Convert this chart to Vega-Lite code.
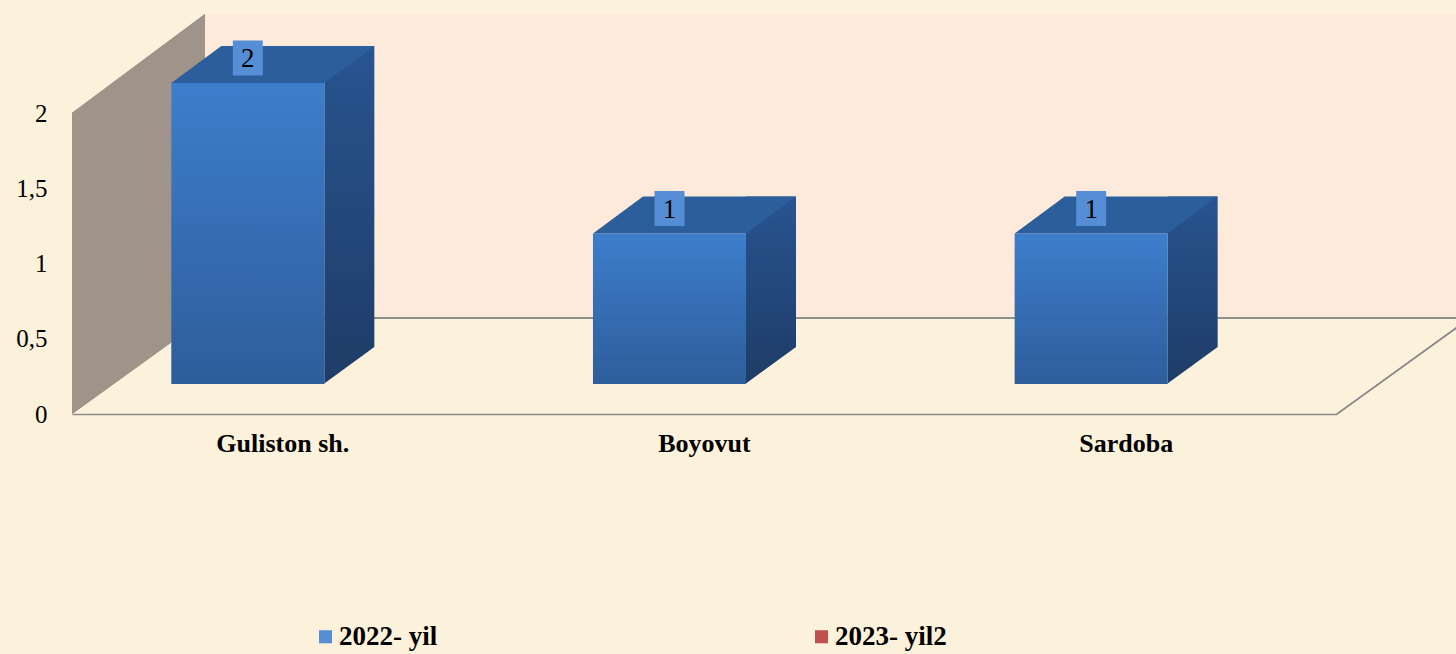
{
  "$schema": "https://vega.github.io/schema/vega-lite/v6.json",
  "autosize": "none",
  "width": 1265,
  "height": 301,
  "padding": {"left": 72, "top": 113, "right": 119, "bottom": 240},
  "background": "#FCF1DA",
  "config": {
    "view": {"stroke": null},
    "axis": {"labelFont": "Liberation Serif", "labelColor": "#000000", "grid": false, "ticks": false, "title": null},
    "legend": {"labelFont": "Liberation Serif"}
  },
  "data": {
    "values": [
      {"district": "Guliston sh.", "value": 2, "series": "2022- yil"},
      {"district": "Boyovut", "value": 1, "series": "2022- yil"},
      {"district": "Sardoba", "value": 1, "series": "2022- yil"}
    ]
  },
  "layer": [
    {
      "mark": {"type": "point", "filled": true, "opacity": 1, "strokeWidth": 0, "color": "#A0948A", "size": 250000, "shape": "M-0.266,-0.602L0.266,-0.998L0.266,0.218L-0.266,0.602Z", "xOffset": 66.5},
      "encoding": {
        "x": {"value": 0},
        "y": {"datum": 1, "type": "quantitative", "scale": {"domain": [0, 2], "nice": false},
          "axis": {"values": [0, 0.5, 1, 1.5, 2], "format": "~g", "labelExpr": "replace(datum.label, '.', ',')", "labelFontSize": 25, "labelPadding": 25, "domain": false, "title": null}}
      }
    },
    {
      "mark": {"type": "rect", "color": "#FDEADB", "xOffset": 133, "x2Offset": 133, "yOffset": -96, "y2Offset": -99},
      "encoding": {
        "x": {"value": 0},
        "x2": {"value": "width"},
        "y": {"datum": 0, "type": "quantitative"},
        "y2": {"datum": 2}
      }
    },
    {
      "mark": {"type": "rule", "color": "#8C8C8C", "strokeWidth": 1.5, "xOffset": 133, "x2Offset": 133, "yOffset": -96},
      "encoding": {
        "x": {"value": 0},
        "x2": {"value": "width"},
        "y": {"datum": 0, "type": "quantitative"}
      }
    },
    {
      "mark": {"type": "rule", "color": "#8C8C8C", "strokeWidth": 1.5, "x2Offset": 133, "y2Offset": -96},
      "encoding": {
        "x": {"value": "width"},
        "x2": {"value": "width"},
        "y": {"datum": 0, "type": "quantitative"},
        "y2": {"datum": 0}
      }
    },
    {
      "mark": {"type": "bar", "width": 50, "xOffset": 66.5, "yOffset": -67, "y2Offset": -30,
        "color": {"gradient": "linear", "x1": 0, "y1": 0, "x2": 0, "y2": 1, "stops": [{"offset": 0, "color": "#285490"}, {"offset": 1, "color": "#1E3C66"}]}},
      "encoding": {
        "x": {"field": "district", "type": "nominal", "sort": null, "scale": {"paddingInner": 0.637, "paddingOuter": 0.3185},
          "axis": {"labelFontSize": 26, "labelFontWeight": "bold", "labelPadding": 16, "domain": true, "domainColor": "#8C8C8C", "domainWidth": 1.5, "labelAngle": 0, "title": null}},
        "y": {"field": "value", "type": "quantitative"},
        "y2": {"datum": 0}
      }
    },
    {
      "mark": {"type": "point", "filled": true, "opacity": 1, "strokeWidth": 0, "color": "#FCF1DA", "size": 90000, "shape": "M0.505,0L0.8433,-0.2467L0.86,-0.2467L0.86,0.01L0.505,0.01Z", "xOffset": -35, "yOffset": -30},
      "encoding": {
        "x": {"field": "district", "type": "nominal", "sort": null},
        "y": {"datum": 0, "type": "quantitative"}
      }
    },
    {
      "mark": {"type": "bar", "xOffset": -35, "yOffset": -30, "y2Offset": -30,
        "color": {"gradient": "linear", "x1": 0, "y1": 0, "x2": 0, "y2": 1, "stops": [{"offset": 0, "color": "#3D7ECC"}, {"offset": 1, "color": "#2E5D9B"}]}},
      "encoding": {
        "x": {"field": "district", "type": "nominal", "sort": null},
        "y": {"field": "value", "type": "quantitative"},
        "y2": {"datum": 0}
      }
    },
    {
      "mark": {"type": "point", "filled": true, "opacity": 1, "strokeWidth": 0, "color": "#2C5E9C", "size": 90000, "shape": "M-0.51,0L0.51,0L0.8433,-0.2467L-0.1767,-0.2467Z", "xOffset": -35, "yOffset": -30},
      "encoding": {
        "x": {"field": "district", "type": "nominal", "sort": null},
        "y": {"field": "value", "type": "quantitative"}
      }
    },
    {
      "mark": {"type": "point", "filled": true, "opacity": 1, "strokeWidth": 0, "size": 1225, "shape": "M-0.857,-1L0.857,-1L0.857,1L-0.857,1Z", "xOffset": -35, "yOffset": -55},
      "encoding": {
        "x": {"field": "district", "type": "nominal", "sort": null},
        "y": {"field": "value", "type": "quantitative"},
        "color": {"field": "series", "type": "nominal",
          "scale": {"domain": ["2022- yil", "2023- yil2"], "range": ["#558ED5", "#C0504D"]},
          "legend": {"orient": "none", "legendX": 240, "legendY": 510, "direction": "horizontal", "columns": 2, "columnPadding": 370, "symbolType": "square", "symbolSize": 170, "symbolStrokeWidth": 0, "labelFontSize": 27, "labelFontWeight": "bold", "labelColor": "#000000", "labelOffset": 0, "title": null}}
      }
    },
    {
      "mark": {"type": "text", "font": "Liberation Serif", "fontSize": 27, "color": "#000000", "baseline": "middle", "align": "center", "dx": -35, "dy": -54},
      "encoding": {
        "x": {"field": "district", "type": "nominal", "sort": null},
        "y": {"field": "value", "type": "quantitative"},
        "text": {"field": "value", "type": "quantitative"}
      }
    }
  ]
}
